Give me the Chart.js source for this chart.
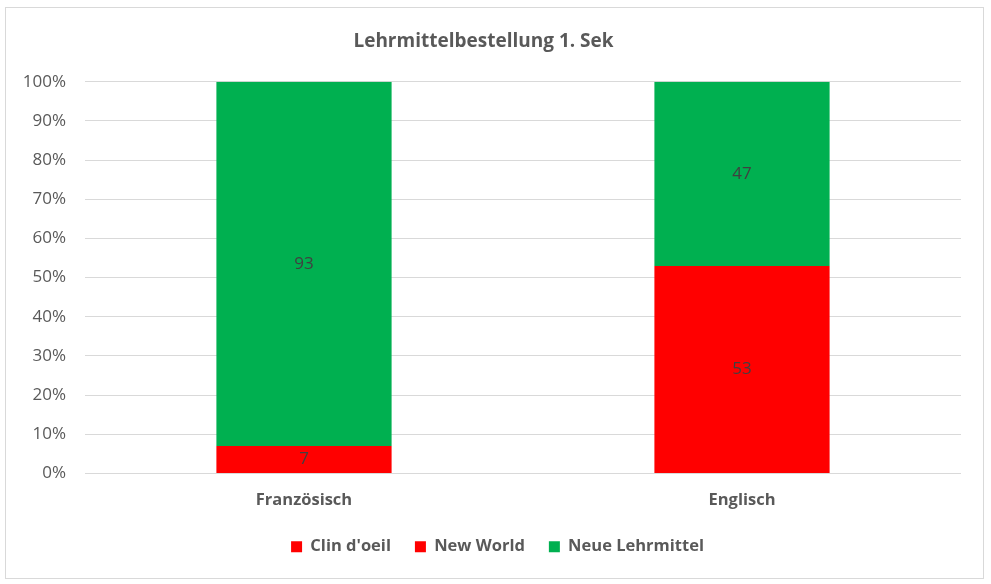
<!DOCTYPE html>
<html>
<head>
<meta charset="utf-8">
<script src="https://cdn.jsdelivr.net/npm/chart.js@4"></script>
<style>
  body { margin: 0; background: #fff; }
  #box { position: absolute; left: 5px; top: 7px; width: 977px; height: 570px; border: 1px solid #d9d9d9; }
</style>
</head>
<body>
<div id="box"><canvas id="chart" width="977" height="570"></canvas></div>
<script>
// Kategorien und Werte (Prozent)
const categories = ["Französisch", "Englisch"];
const clinDoeil = [7, null];
const newWorld = [null, 53];
const neueLehrmittel = [93, 47];
const yTicks = [0, 10, 20, 30, 40, 50, 60, 70, 80, 90, 100];

const grey = "#595959";

// Werte mittig in die Balken schreiben
const barLabels = {
  id: "barLabels",
  afterDatasetsDraw(chart) {
    const ctx = chart.ctx;
    ctx.save();
    ctx.font = "17px 'Open Sans'";
    ctx.fillStyle = "#404040";
    ctx.textAlign = "center";
    ctx.textBaseline = "middle";
    chart.data.datasets.forEach((ds, i) => {
      chart.getDatasetMeta(i).data.forEach((bar, j) => {
        const v = ds.data[j];
        if (v == null) return;
        const mid = (bar.y + bar.base) / 2;
        ctx.fillText(String(v), bar.x, mid);
      });
    });
    ctx.restore();
  }
};

// Legende etwas nach rechts schieben (wie im Original)
const legendShift = {
  id: "legendShift",
  afterLayout(chart) {
    chart.legend.left += 14;
    chart.legend.right += 14;
  }
};

new Chart(document.getElementById("chart").getContext("2d"), {
  type: "bar",
  data: {
    labels: categories,
    datasets: [
      { label: "Clin d'oeil", data: clinDoeil, backgroundColor: "#ff0000" },
      { label: "New World", data: newWorld, backgroundColor: "#ff0000" },
      { label: "Neue Lehrmittel", data: neueLehrmittel, backgroundColor: "#00b050" }
    ]
  },
  options: {
    responsive: false,
    animation: false,
    layout: { padding: { left: 0, right: 22, top: 0, bottom: 13 } },
    datasets: { bar: { categoryPercentage: 0.4, barPercentage: 1 } },
    plugins: {
      title: {
        display: true,
        text: "Lehrmittelbestellung 1. Sek",
        color: grey,
        font: { family: "'Open Sans'", size: 19, weight: "bold" },
        padding: { top: 22, bottom: 29 }
      },
      legend: {
        position: "bottom",
        labels: {
          color: grey,
          boxWidth: 11,
          boxHeight: 11,
          padding: 24,
          font: { family: "'Open Sans'", size: 16.5, weight: "bold" }
        }
      },
      tooltip: { enabled: false }
    },
    scales: {
      x: {
        stacked: true,
        grid: { display: false },
        border: { display: false },
        afterFit(axis) { axis.height = 41; },
        ticks: { color: grey, padding: 9, font: { family: "'Open Sans'", size: 16.5, weight: "bold" } }
      },
      y: {
        stacked: true,
        min: 0,
        max: 100,
        afterBuildTicks(axis) { axis.ticks = yTicks.map(v => ({ value: v })); },
        afterFit(axis) { axis.width = 79; },
        grid: { color: "#d9d9d9", drawTicks: false },
        border: { display: false },
        ticks: {
          color: grey,
          padding: 19,
          font: { family: "'Open Sans'", size: 17 },
          callback: v => v + "%"
        }
      }
    }
  },
  plugins: [barLabels, legendShift]
});
</script>
</body>
</html>
